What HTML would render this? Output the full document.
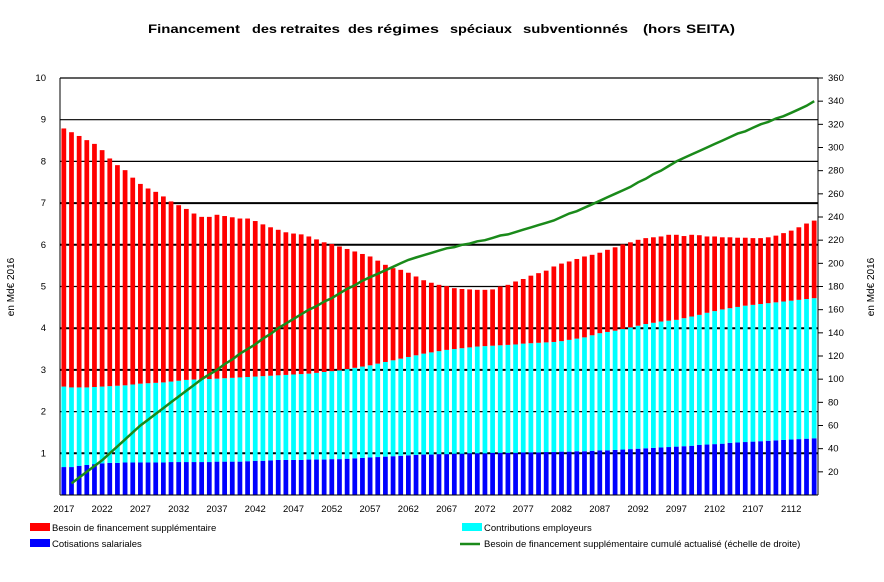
<!DOCTYPE html>
<html><head><meta charset="utf-8"><style>
body{margin:0;background:#fff;font-family:"Liberation Sans",sans-serif}
svg text{font-family:"Liberation Sans",sans-serif}
</style></head><body>
<svg id="c" width="884" height="577" viewBox="0 0 884 577">
<g font-size="12" font-weight="bold">
<text x="148" y="33" textLength="92" lengthAdjust="spacingAndGlyphs">Financement</text>
<text x="252" y="33" textLength="25" lengthAdjust="spacingAndGlyphs">des</text>
<text x="280" y="33" textLength="60" lengthAdjust="spacingAndGlyphs">retraites</text>
<text x="348" y="33" textLength="25" lengthAdjust="spacingAndGlyphs">des</text>
<text x="377" y="33" textLength="62" lengthAdjust="spacingAndGlyphs">régimes</text>
<text x="450" y="33" textLength="62" lengthAdjust="spacingAndGlyphs">spéciaux</text>
<text x="523" y="33" textLength="105" lengthAdjust="spacingAndGlyphs">subventionnés</text>
<text x="643" y="33" textLength="38" lengthAdjust="spacingAndGlyphs">(hors</text>
<text x="686" y="33" textLength="49" lengthAdjust="spacingAndGlyphs">SEITA)</text>
</g>
<text transform="translate(14,287) rotate(-90)" text-anchor="middle" font-size="10">en Md€ 2016</text>
<text transform="translate(874,287) rotate(-90)" text-anchor="middle" font-size="10">en Md€ 2016</text>
<g id="grid"></g><g id="bars"></g><g id="axes"></g><g id="line"></g>
<g>
<rect x="30" y="523" width="20" height="8" fill="#f00"/>
<text x="52" y="531" font-size="9.5">Besoin de financement supplémentaire</text>
<rect x="462" y="523" width="20" height="8" fill="#0ff"/>
<text x="484" y="531" font-size="9.5">Contributions employeurs</text>
<rect x="30" y="539" width="20" height="8" fill="#00f"/>
<text x="52" y="547" font-size="9.5">Cotisations salariales</text>
<line x1="460" y1="544" x2="480" y2="544" stroke="#1a8a1a" stroke-width="2.5"/>
<text x="484" y="547" font-size="9.5">Besoin de financement supplémentaire cumulé actualisé (échelle de droite)</text>
</g>
</svg>
<script>
const startYear = 2017;
const totals = [8.79,8.70,8.61,8.51,8.42,8.27,8.07,7.91,7.79,7.61,7.46,7.35,7.27,7.16,7.04,6.95,6.86,6.75,6.67,6.67,6.72,6.69,6.66,6.63,6.63,6.57,6.49,6.42,6.36,6.30,6.27,6.25,6.20,6.13,6.06,6.02,5.96,5.90,5.84,5.78,5.72,5.62,5.52,5.44,5.40,5.33,5.24,5.15,5.09,5.04,5.01,4.96,4.94,4.93,4.92,4.92,4.93,5.00,5.04,5.12,5.18,5.26,5.32,5.38,5.48,5.55,5.60,5.66,5.72,5.76,5.81,5.88,5.94,6.01,6.06,6.12,6.16,6.18,6.20,6.24,6.24,6.21,6.24,6.23,6.20,6.20,6.18,6.18,6.17,6.17,6.16,6.16,6.18,6.22,6.28,6.34,6.42,6.51,6.58];
const salariales = [0.67,0.67,0.70,0.72,0.74,0.76,0.77,0.77,0.78,0.78,0.78,0.78,0.78,0.78,0.79,0.79,0.79,0.79,0.79,0.79,0.80,0.80,0.80,0.80,0.81,0.82,0.82,0.83,0.84,0.84,0.84,0.84,0.85,0.85,0.85,0.86,0.86,0.87,0.88,0.89,0.90,0.91,0.92,0.93,0.94,0.95,0.96,0.97,0.97,0.98,0.98,0.99,0.99,1.00,1.00,1.00,1.01,1.01,1.01,1.01,1.02,1.02,1.02,1.03,1.03,1.04,1.04,1.05,1.05,1.06,1.07,1.07,1.08,1.09,1.10,1.11,1.12,1.13,1.14,1.15,1.16,1.17,1.18,1.20,1.21,1.22,1.23,1.25,1.26,1.27,1.28,1.29,1.30,1.31,1.32,1.33,1.34,1.35,1.36];
const employeurs = [1.93,1.91,1.88,1.86,1.85,1.84,1.84,1.85,1.85,1.87,1.89,1.90,1.91,1.92,1.93,1.95,1.97,1.98,1.98,1.99,1.99,2.00,2.01,2.02,2.02,2.02,2.03,2.03,2.03,2.04,2.05,2.06,2.06,2.08,2.10,2.11,2.13,2.15,2.17,2.19,2.21,2.24,2.27,2.30,2.33,2.36,2.39,2.42,2.45,2.47,2.50,2.51,2.53,2.54,2.56,2.57,2.57,2.58,2.59,2.60,2.61,2.62,2.63,2.63,2.64,2.65,2.68,2.70,2.73,2.77,2.81,2.84,2.86,2.89,2.92,2.95,2.98,3.00,3.02,3.03,3.04,3.07,3.10,3.12,3.16,3.19,3.22,3.23,3.25,3.27,3.28,3.29,3.30,3.31,3.32,3.33,3.34,3.35,3.36];
const cumulStart = 2018;
const cumul = [10,15,20,25,30,36,42,48,54,60,65,70,75,80,85,90,95,100,104,108,113,117,122,126,130,135,139,144,148,152,156,160,163,167,170,174,178,181,185,188,191,194,197,200,203,205,207,209,211,213,214,216,217,219,220,222,224,225,227,229,231,233,235,237,240,243,245,248,251,254,257,260,263,266,270,273,277,280,284,288,291,294,297,300,303,306,309,312,314,317,320,322,325,327,330,333,336,340];
const leftTicks = [0,1,2,3,4,5,6,7,8,9,10];
const rightTicks = [20,40,60,80,100,120,140,160,180,200,220,240,260,280,300,320,340,360];
const xTickLabels = [2017,2022,2027,2032,2037,2042,2047,2052,2057,2062,2067,2072,2077,2082,2087,2092,2097,2102,2107,2112];

const NS='http://www.w3.org/2000/svg';
const L=60,R=818,T=78,B=495;
const n=totals.length, step=(R-L)/n;
const xc=y=>L+step*(y-startYear+0.5);
const yL=v=>B-(B-T)*v/10;
const yR=v=>B-(B-T)*v/360;
function mk(tag,attrs,parent){const e=document.createElementNS(NS,tag);for(const k in attrs)e.setAttribute(k,attrs[k]);parent.appendChild(e);return e;}
const grid=document.getElementById('grid'),bars=document.getElementById('bars'),axes=document.getElementById('axes'),line=document.getElementById('line');
const thick=[1,3,4,6,7];
leftTicks.forEach(v=>{if(v===0)return;
 const g=mk('line',{x1:L,x2:R,y1:yL(v),y2:yL(v),stroke:'#000','stroke-width':thick.includes(v)?2:1.2},grid);
 
 
 const t=mk('text',{x:L-14,y:yL(v)+3,'font-size':9.5,'text-anchor':'end'},axes);t.textContent=v;
 
 
});
const bw=step*0.62;
for(let i=0;i<n;i++){
 const yr=startYear+i,x=xc(yr)-bw/2,s=salariales[i],e=s+employeurs[i],tot=totals[i];
 const b1=mk('rect',{x:x,width:bw,y:yL(s),height:yL(0)-yL(s),fill:'#00f'},bars);
 
 
 const b2=mk('rect',{x:x,width:bw,y:yL(e),height:yL(s)-yL(e),fill:'#0ff'},bars);
 
 
 const b3=mk('rect',{x:x,width:bw,y:yL(tot),height:Math.max(0,yL(e)-yL(tot)),fill:'#f00'},bars);
 
 
}
const a1=mk('line',{x1:L,x2:L,y1:T,y2:B,stroke:'#000','stroke-width':1},axes);


const a2=mk('line',{x1:R,x2:R,y1:T,y2:B,stroke:'#000','stroke-width':1},axes);


const a3=mk('line',{x1:L,x2:R,y1:B,y2:B,stroke:'#000','stroke-width':1},axes);


rightTicks.forEach(v=>{
 mk('line',{x1:R,x2:R+5,y1:yR(v),y2:yR(v),stroke:'#000'},axes);
 const t=mk('text',{x:R+10,y:yR(v)+3,'font-size':9.5},axes);t.textContent=v;
 
 
});
xTickLabels.forEach(y=>{
 const t=mk('text',{x:xc(y),y:512,'font-size':9.5,'text-anchor':'middle'},axes);t.textContent=y;
 
 
});
const pts=cumul.map((v,i)=>xc(cumulStart+i).toFixed(1)+','+yR(v).toFixed(1)).join(' ');
const pl=mk('polyline',{points:pts,fill:'none',stroke:'#1a8a1a','stroke-width':2.5},line);


</script>
</body></html>
